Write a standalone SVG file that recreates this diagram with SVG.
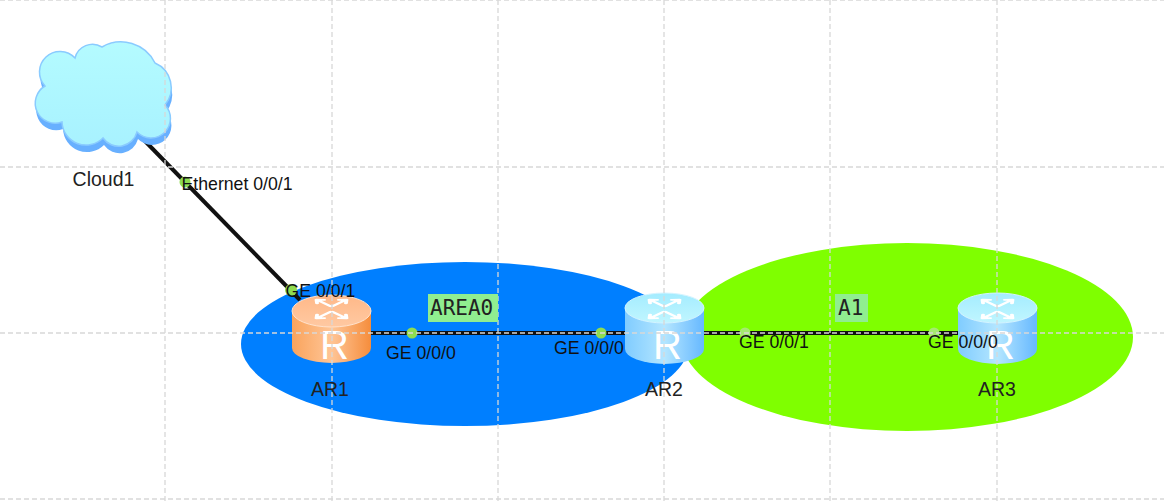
<svg xmlns="http://www.w3.org/2000/svg" width="1164" height="502" viewBox="0 0 1164 502">
<style>
.lbl{font-family:"Liberation Sans",Arial,sans-serif;font-size:17.7px;fill:#111}
.name{font-family:"Liberation Sans",Arial,sans-serif;font-size:19.5px;fill:#222;text-anchor:middle}
.area{font-family:"DejaVu Sans Mono",monospace;font-size:21px;fill:#222}
.grid line{stroke:#d8d8d8;stroke-width:1.3;stroke-dasharray:5 3}
.link{fill:none;stroke:#111;stroke-width:4}
.pt{fill:#8fdc50}
.pt2{fill:#a5ea70}
</style>
<defs>
<linearGradient id="cloudFill" x1="0" y1="0" x2="0" y2="1"><stop offset="0" stop-color="#b4fbff"/><stop offset="1" stop-color="#a8f2ff"/></linearGradient>
<linearGradient id="orangeBody" x1="0" y1="0" x2="1" y2="0"><stop offset="0" stop-color="#f9a35c"/><stop offset=".5" stop-color="#ffc596"/><stop offset="1" stop-color="#f58d3c"/></linearGradient>
<linearGradient id="orangeTop" x1="0" y1="0" x2="0" y2="1"><stop offset="0" stop-color="#ffb888"/><stop offset="1" stop-color="#ffc9a2"/></linearGradient>
<linearGradient id="blueBody" x1="0" y1="0" x2="1" y2="0"><stop offset="0" stop-color="#80ccff"/><stop offset=".5" stop-color="#b4e6ff"/><stop offset="1" stop-color="#66b8ff"/></linearGradient>
<linearGradient id="blueTop" x1="0" y1="0" x2="0" y2="1"><stop offset="0" stop-color="#a4ecff"/><stop offset="1" stop-color="#c0f6ff"/></linearGradient>
<g id="routerMarks">
<g transform="translate(0,-21) scale(.85,.4) rotate(45)" fill="none" stroke="#fff" stroke-width="4.500" stroke-linecap="round" stroke-linejoin="round">
<path d="M-27 -4H-6M-22 -10L-29 -4L-22 2M6 4H27M22 -2L29 4L22 10M-4 -6V-27M-10 -22L-4 -29L2 -22M4 6V27M-2 22L4 29L10 22"/>
</g>
<text x="3" y="29" text-anchor="middle" font-family="'Liberation Sans',Arial,sans-serif" font-size="40" fill="#fff">R</text>
</g>
<path id="cloudShape" d="M45 86A20 20 0 0 1 75 58A18 18 0 0 1 102 47A38 38 0 0 1 155 63A27 27 0 0 1 165 105A18 18 0 0 1 137 132A19 19 0 0 1 103 138A24 24 0 0 1 62 122A20 20 0 0 1 45 86Z"/>
</defs>
<rect width="1164" height="502" fill="#fff"/>
<ellipse cx="465" cy="344" rx="224" ry="82" fill="#007fff"/>
<ellipse cx="907" cy="337" rx="226" ry="94" fill="#7fff00"/>
<g id="connectors">
<path class="link" d="M143 139L300 300"/>
<path class="link" d="M371 333H625M704 333H958"/>
</g>
<g id="Cloud1">
<use href="#cloudShape" x="1" y="7" fill="#68b0ff"/>
<use href="#cloudShape" fill="url(#cloudFill)" stroke="#8acbff" stroke-width="1.500"/>
</g>
<g id="AR1">
<path d="M292 311V348A39.500 15 0 0 0 371 348V311Z" fill="url(#orangeBody)"/>
<ellipse cx="331.500" cy="311" rx="39.500" ry="16" fill="url(#orangeTop)" stroke="#ffe2cc"/>
<use href="#routerMarks" x="331.500" y="330"/>
</g>
<g id="AR2">
<path d="M625 308V349A39.500 15 0 0 0 704 349V308Z" fill="url(#blueBody)"/>
<ellipse cx="664.500" cy="308" rx="39.500" ry="15" fill="url(#blueTop)" stroke="#d4f4ff"/>
<use href="#routerMarks" x="664.500" y="330"/>
</g>
<g id="AR3">
<path d="M958 308V349A39.500 15 0 0 0 1037 349V308Z" fill="url(#blueBody)"/>
<ellipse cx="997.500" cy="308" rx="39.500" ry="15" fill="url(#blueTop)" stroke="#d4f4ff"/>
<use href="#routerMarks" x="997.500" y="330"/>
</g>
<g id="ports">
<circle class="pt" cx="185" cy="182" r="5.500"/>
<circle class="pt" cx="291" cy="290" r="6"/>
<circle class="pt" cx="412" cy="333" r="5.500"/>
<circle class="pt" cx="601" cy="333" r="5.500"/>
<circle class="pt2" cx="745" cy="333" r="5.500"/>
<circle class="pt2" cx="934" cy="333" r="5.500"/>
</g>
<g id="grid" class="grid">
<line x1="165" y1="0" x2="165" y2="502"/><line x1="332" y1="0" x2="332" y2="502"/><line x1="498" y1="0" x2="498" y2="502"/><line x1="664" y1="0" x2="664" y2="502"/><line x1="830" y1="0" x2="830" y2="502"/><line x1="997" y1="0" x2="997" y2="502"/>
<line x1="0" y1="0" x2="1164" y2="0"/><line x1="0" y1="167" x2="1164" y2="167"/><line x1="0" y1="333" x2="1164" y2="333"/><line x1="0" y1="499" x2="1164" y2="499"/>
</g>
<g id="labels">
<text class="name" x="103.500" y="186">Cloud1</text>
<text class="name" x="330" y="396">AR1</text>
<text class="name" x="664" y="396">AR2</text>
<text class="name" x="997" y="396">AR3</text>
<text class="lbl" x="181.500" y="190">Ethernet 0/0/1</text>
<text class="lbl" x="285.500" y="297">GE 0/0/1</text>
<text class="lbl" x="386" y="359">GE 0/0/0</text>
<text class="lbl" x="554" y="354">GE 0/0/0</text>
<text class="lbl" x="739" y="348">GE 0/0/1</text>
<text class="lbl" x="928" y="348">GE 0/0/0</text>
<rect x="428" y="294" width="70" height="28" fill="#90ee90"/>
<text class="area" x="430" y="315">AREA0</text>
<rect x="835" y="294" width="33" height="28" fill="#90ee90"/>
<text class="area" x="838" y="315">A1</text>
</g>
</svg>
